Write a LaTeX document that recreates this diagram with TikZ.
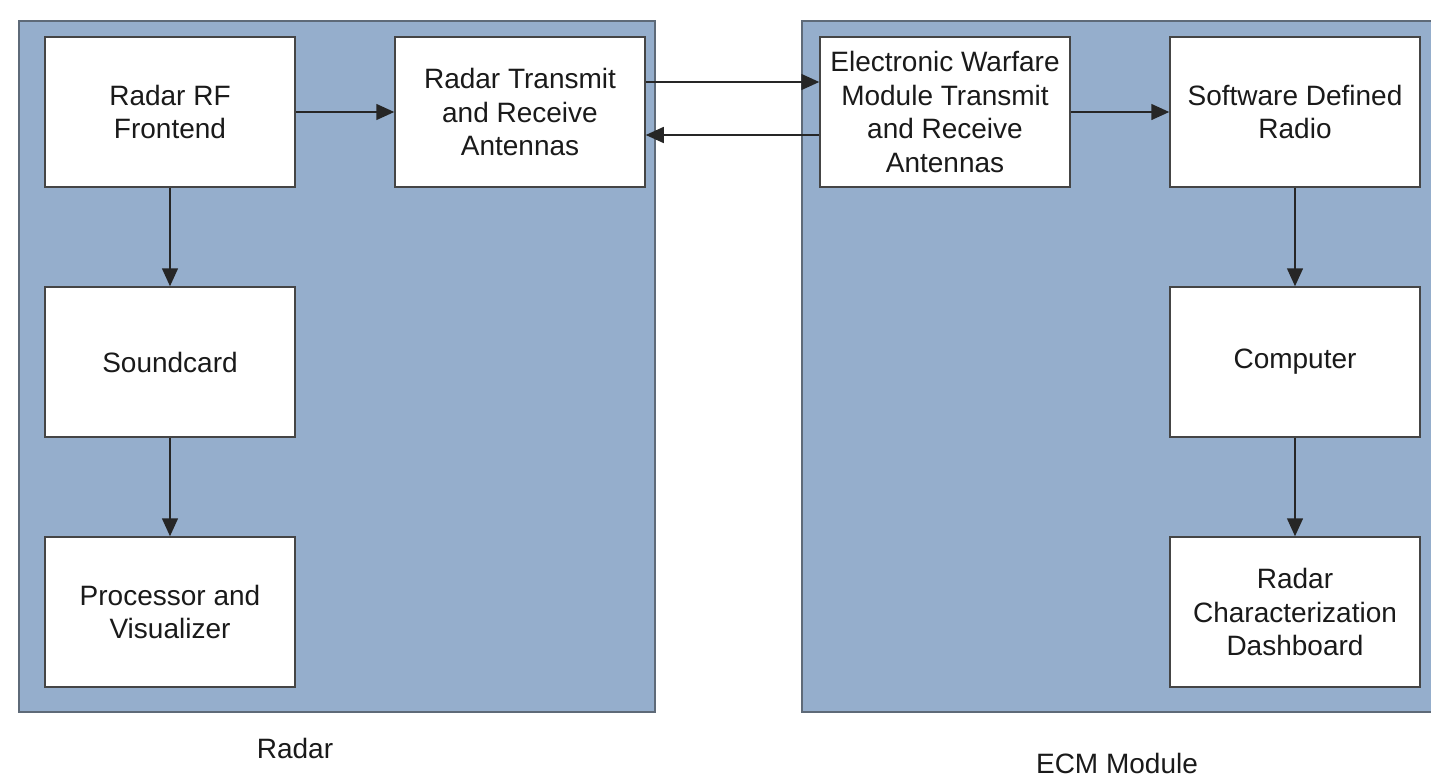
\documentclass[tikz,border=0pt]{standalone}
\usepackage{fontspec}
\setmainfont{Liberation Sans}
\usetikzlibrary{arrows.meta}
\definecolor{panelfill}{HTML}{95AECC}
\definecolor{paneledge}{HTML}{5E6A78}
\definecolor{boxedge}{HTML}{454545}
\definecolor{txt}{HTML}{1A1A1A}
\tikzset{
  panel/.style={fill=panelfill, draw=paneledge, line width=1.6pt},
  blockbox/.style={draw=boxedge, fill=white, line width=1.5pt, minimum width=250pt, minimum height=150pt, inner sep=0pt, align=center, text=txt, font=\fontsize{28}{33.5}\selectfont},
  paneltitle/.style={text=txt, inner sep=0pt, font=\fontsize{28}{33.5}\selectfont},
  arr/.style={draw=black!85, line width=1.5pt, -{Triangle[length=18pt,width=16pt]}}
}
\begin{document}
\begin{tikzpicture}[x=1pt,y=-1pt]
\useasboundingbox (0,0) rectangle (1431,779);
\begin{scope}
\clip (0,0) rectangle (1431,779);
\draw[panel] (19,21) rectangle (655,712);
\draw[panel] (802,21) rectangle (1445,712);
\end{scope}
\node[blockbox] (rf) at (170,112) {Radar RF\\Frontend};
\node[blockbox] (tx) at (520,112) {Radar Transmit\\and Receive\\Antennas};
\node[blockbox] (snd) at (170,362) {Soundcard};
\node[blockbox] (proc) at (170,612) {Processor and\\Visualizer};
\node[blockbox] (ew) at (945,112) {Electronic Warfare\\Module Transmit\\and Receive\\Antennas};
\node[blockbox] (sdr) at (1295,112) {Software Defined\\Radio};
\node[blockbox] (comp) at (1295,362) {Computer};
\node[blockbox] (dash) at (1295,612) {Radar\\Characterization\\Dashboard};
\node[paneltitle] (lradar) at (295,748) {Radar};
\node[paneltitle] (lecm) at (1117,763) {ECM Module};
\draw[arr] (rf.east) -- (tx.west);
\draw[arr] ([yshift=30pt]tx.east) -- ([yshift=30pt]ew.west);
\draw[arr] ([yshift=-23pt]ew.west) -- ([yshift=-23pt]tx.east);
\draw[arr] (ew.east) -- (sdr.west);
\draw[arr] (rf.south) -- (snd.north);
\draw[arr] (snd.south) -- (proc.north);
\draw[arr] (sdr.south) -- (comp.north);
\draw[arr] (comp.south) -- (dash.north);
\end{tikzpicture}
\end{document}
